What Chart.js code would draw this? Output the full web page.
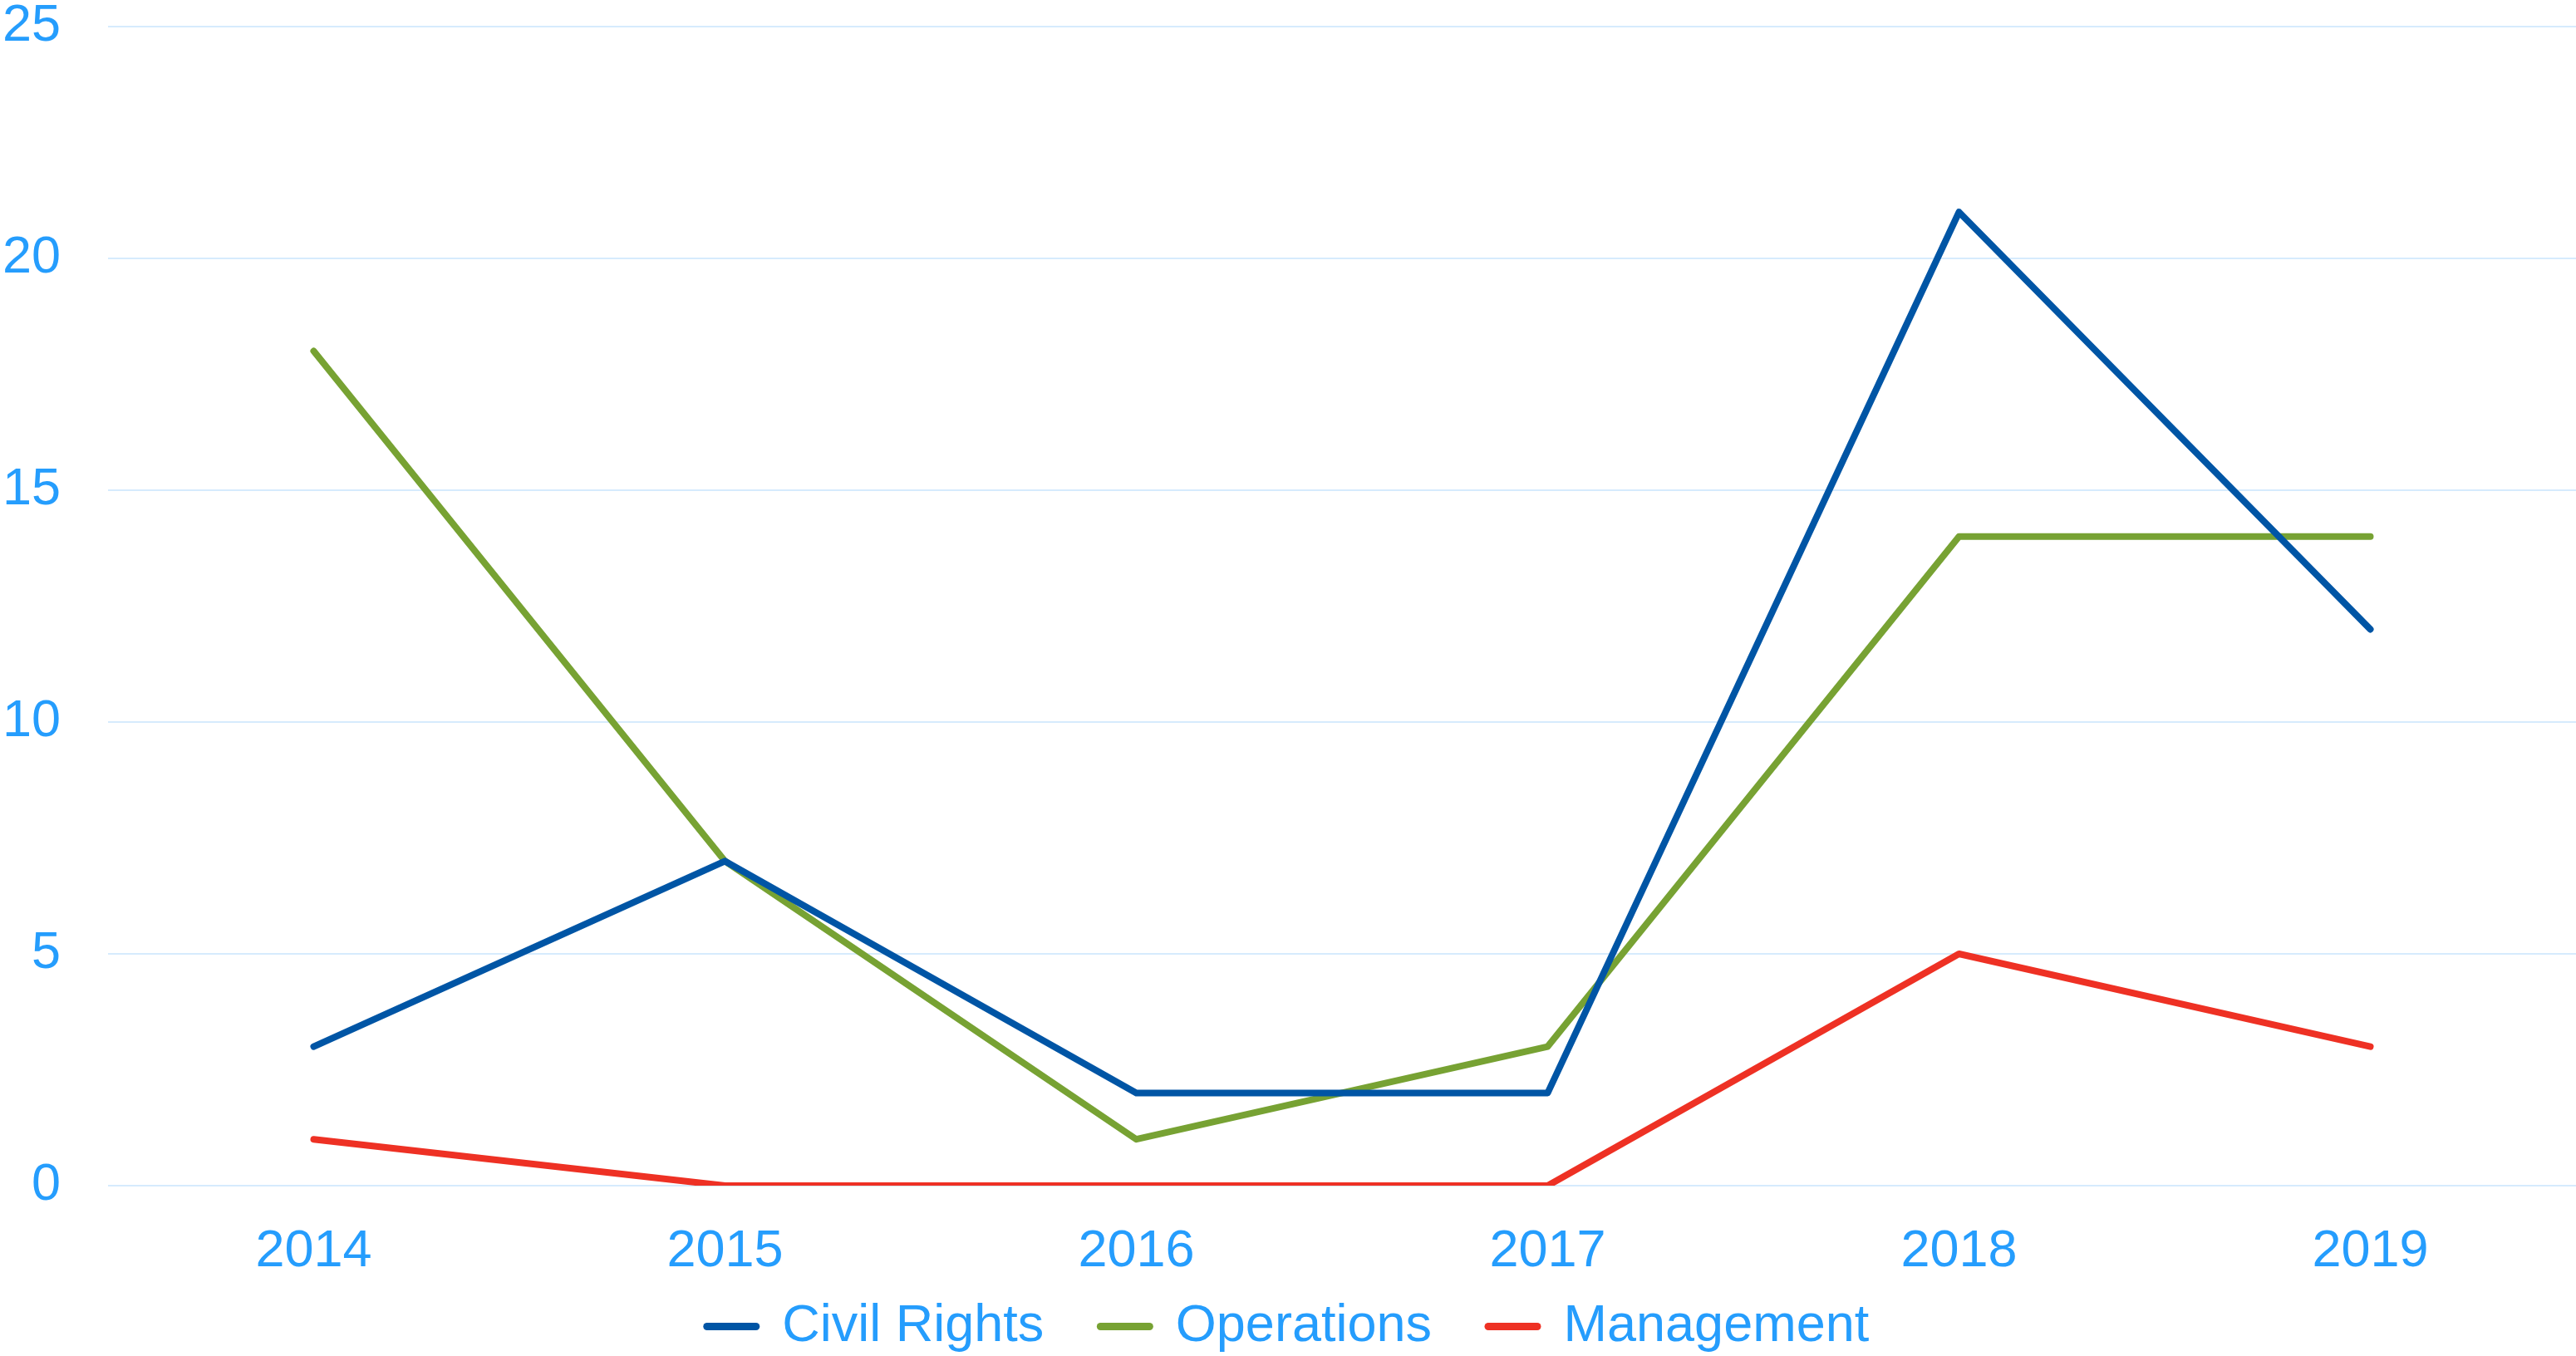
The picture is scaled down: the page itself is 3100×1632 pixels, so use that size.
<!DOCTYPE html>
<html>
<head>
<meta charset="utf-8">
<script src="https://cdn.jsdelivr.net/npm/chart.js@4/dist/chart.umd.min.js"></script>
<style>
  html, body { margin: 0; padding: 0; background: #fff; }
  #wrap { width: 3100px; height: 1632px; }
</style>
</head>
<body>
<div id="wrap"><canvas id="line-chart"></canvas></div>
<script>
const years = ['2014', '2015', '2016', '2017', '2018', '2019'];
const civilRights = [3, 7, 2, 2, 21, 12];
const operations = [18, 7, 1, 3, 14, 14];
const management = [1, 0, 0, 0, 5, 3];
const yTicks = [0, 5, 10, 15, 20, 25];

const textColor = '#259dfd';
const gridColor = '#d6ebfd';
const fontFamily = "'Liberation Sans', Arial, sans-serif";

function series(label, values, color) {
    return {
        label: label,
        data: values,
        borderColor: color,
        backgroundColor: color,
        borderWidth: 8,
        borderCapStyle: 'round',
        borderJoinStyle: 'round',
        pointRadius: 0,
        pointHoverRadius: 0,
        tension: 0,
        fill: false
    };
}

// legend sits tight under the axis labels
const legendPlacement = {
    id: 'legendPlacement',
    beforeInit(chart) {
        const fit = chart.legend.fit;
        chart.legend.fit = function () {
            fit.bind(chart.legend)();
            this.height = 99;
        };
    },
    afterLayout(chart) {
        chart.legend.top -= 36;
    }
};

const ctx = document.getElementById('line-chart');

new Chart(ctx, {
    type: 'line',
    data: {
        labels: years,
        datasets: [
            series('Civil Rights', civilRights, '#0055a5'),
            series('Operations', operations, '#77a233'),
            series('Management', management, '#ee3124')
        ]
    },
    plugins: [legendPlacement],
    options: {
        responsive: true,
        maintainAspectRatio: false,
        animation: false,
        layout: {
            padding: 0
        },
        plugins: {
            tooltip: { enabled: false },
            legend: {
                position: 'bottom',
                labels: {
                    color: textColor,
                    font: { family: fontFamily, size: 63 },
                    usePointStyle: true,
                    pointStyle: 'line',
                    pointStyleWidth: 59,
                    boxHeight: 10,
                    padding: 68,
                    generateLabels: function (chart) {
                        const items = Chart.defaults.plugins.legend.labels.generateLabels(chart);
                        items.forEach(function (it) {
                            it.lineWidth = 9;
                            it.lineCap = 'round';
                        });
                        return items;
                    }
                }
            }
        },
        scales: {
            x: {
                offset: true,
                grid: { display: false, drawTicks: false },
                border: { display: false },
                ticks: {
                    color: textColor,
                    padding: 48,
                    font: { family: fontFamily, size: 63, lineHeight: 1.0 }
                },
                afterFit: function (scale) {
                    scale.height = 106;
                    scale.paddingLeft = 0;
                    scale.paddingRight = 0;
                }
            },
            y: {
                min: 0,
                max: 25,
                afterBuildTicks: function (axis) {
                    axis.ticks = yTicks.map(function (v) { return { value: v }; });
                },
                grid: { color: gridColor, lineWidth: 2, drawTicks: false },
                border: { display: false },
                ticks: {
                    color: textColor,
                    padding: 57,
                    font: { family: fontFamily, size: 63 }
                },
                afterFit: function (scale) {
                    scale.width = 130;
                    scale.paddingTop = 32;
                    scale.paddingBottom = 0;
                }
            }
        }
    }
});
</script>
</body>
</html>
